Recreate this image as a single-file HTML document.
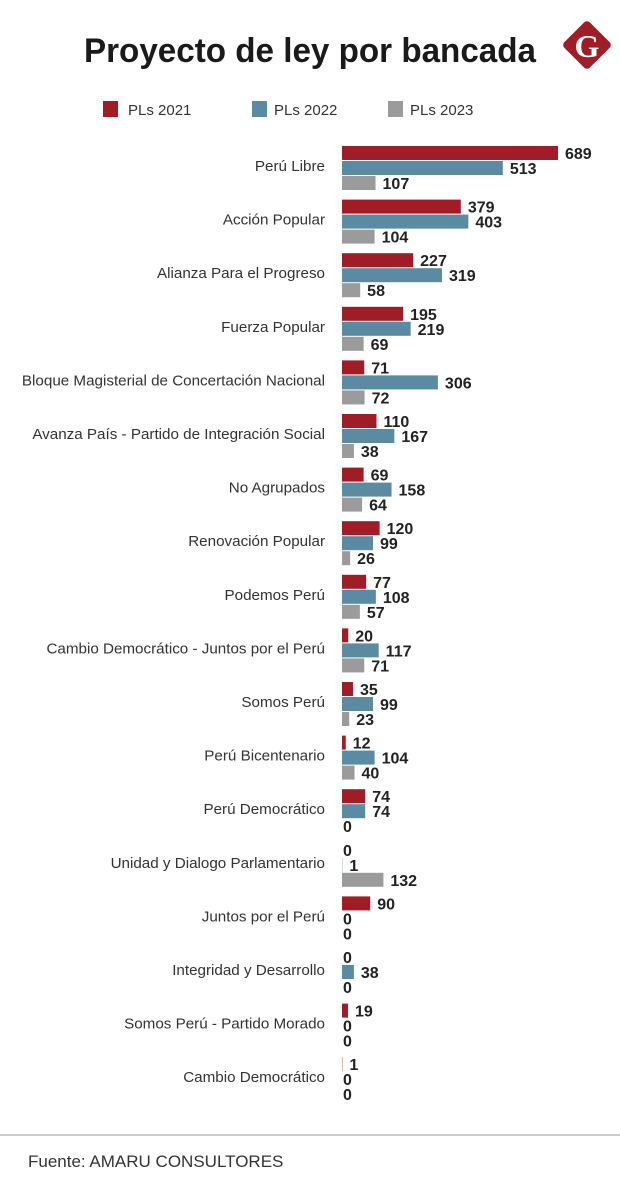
<!DOCTYPE html>
<html><head><meta charset="utf-8"><style>
body{margin:0;background:#fff;}
svg{display:block;font-family:"Liberation Sans",sans-serif;}
</style></head><body>
<svg id="chart" width="620" height="1193" viewBox="0 0 620 1193">
<text x="310" y="62" text-anchor="middle" font-size="34" font-weight="bold" fill="#1a1a1a" textLength="452" lengthAdjust="spacingAndGlyphs">Proyecto de ley por bancada</text>
<g>
<rect x="569" y="27" width="36" height="36" rx="4" fill="#a01c26" transform="rotate(45 587 45)"/>
<text x="587" y="57" text-anchor="middle" font-size="32" font-weight="bold" fill="#fff" font-family="Liberation Serif,serif">G</text>
</g>
<g>
<rect x="103" y="101" width="15" height="16" fill="#a01c26"/>
<text x="128" y="115" font-size="15" fill="#333">PLs 2021</text>
<rect x="252" y="101" width="15" height="16" fill="#5b8aa3"/>
<text x="274" y="115" font-size="15" fill="#333">PLs 2022</text>
<rect x="388" y="101" width="15" height="16" fill="#9b9b9b"/>
<text x="410" y="115" font-size="15" fill="#333">PLs 2023</text>
</g>
<g id="bars"></g>
<line x1="0" y1="1135" x2="620" y2="1135" stroke="#999" stroke-width="1"/>
<text x="28" y="1167" font-size="17" fill="#333">Fuente: AMARU CONSULTORES</text>
</svg>
<script>
const categories = ["Perú Libre","Acción Popular","Alianza Para el Progreso","Fuerza Popular","Bloque Magisterial de Concertación Nacional","Avanza País - Partido de Integración Social","No Agrupados","Renovación Popular","Podemos Perú","Cambio Democrático - Juntos por el Perú","Somos Perú","Perú Bicentenario","Perú Democrático","Unidad y Dialogo Parlamentario","Juntos por el Perú","Integridad y Desarrollo","Somos Perú - Partido Morado","Cambio Democrático"];
const pls2021 = [689,379,227,195,71,110,69,120,77,20,35,12,74,0,90,0,19,1];
const pls2022 = [513,403,319,219,306,167,158,99,108,117,99,104,74,1,0,38,0,0];
const pls2023 = [107,104,58,69,72,38,64,26,57,71,23,40,0,132,0,0,0,0];
const seriesNames = ["2021","2022","2023"];
const colors = ["#a01c26","#5b8aa3","#9b9b9b"];
const NS = "http://www.w3.org/2000/svg";
const x0 = 342, scale = 216/689;
const xPos = v => x0 + v*scale;
const groupTop = i => 146 + i*53.6;
const g = document.getElementById("bars");
const series = [pls2021, pls2022, pls2023];
categories.forEach((c,i)=>{
  const t = document.createElementNS(NS,"text");
  t.setAttribute("x",325); t.setAttribute("y",groupTop(i)+25);
  t.setAttribute("text-anchor","end"); t.setAttribute("font-size","15.2"); t.setAttribute("fill","#333");
  
  
  t.textContent = c; g.appendChild(t);
  series.forEach((s,k)=>{
    const v = s[i], y = groupTop(i)+k*15;
    const r = document.createElementNS(NS,"rect");
    r.setAttribute("x",x0); r.setAttribute("y",y);
    r.setAttribute("width",Math.max(xPos(v)-x0,0)); r.setAttribute("height",14);
    r.setAttribute("fill",colors[k]);
    
    
    g.appendChild(r);
    const l = document.createElementNS(NS,"text");
    l.setAttribute("x",xPos(v)+(v>0?7:1)); l.setAttribute("y",y+13);
    l.setAttribute("font-size","16"); l.setAttribute("font-weight","bold"); l.setAttribute("fill","#222");
    
    
    l.textContent = v; g.appendChild(l);
  });
});
</script>
</body></html>
